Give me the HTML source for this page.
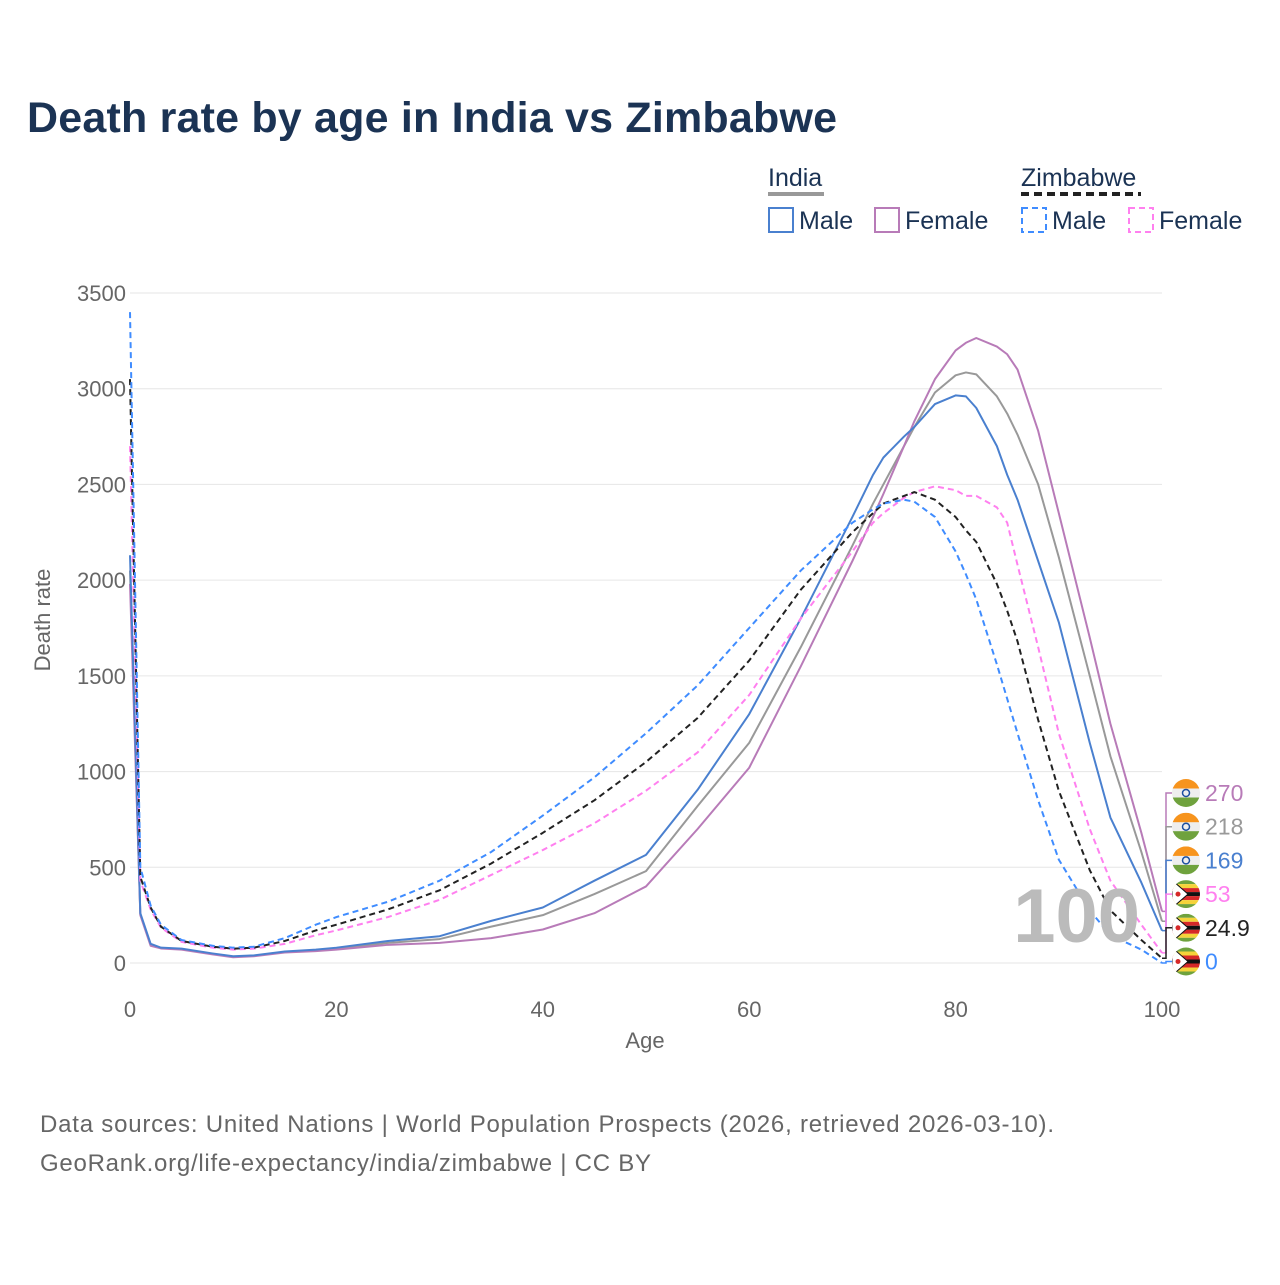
<!DOCTYPE html>
<html><head><meta charset="utf-8"><style>
body{margin:0;background:#fff;font-family:"Liberation Sans",sans-serif}
svg text{font-family:"Liberation Sans",sans-serif}
</style></head><body>
<svg id="c" width="1280" height="1280" xmlns="http://www.w3.org/2000/svg">
<defs id="defs"></defs>
<text x="27" y="132" font-size="43" font-weight="bold" fill="#1b3354" textLength="810">Death rate by age in India vs Zimbabwe</text>
<g font-size="25" fill="#1b3354">
<text x="768" y="186">India</text>
<line x1="768" y1="194" x2="824" y2="194" stroke="#999" stroke-width="4"/>
<text x="1021" y="186">Zimbabwe</text>
<line x1="1021" y1="194" x2="1141" y2="194" stroke="#222" stroke-width="4" stroke-dasharray="8,5"/>
<g><rect x="769" y="208" width="24" height="24" fill="none" stroke="#4a80cf" stroke-width="2"/><text x="799" y="229">Male</text></g>
<g><rect x="875" y="208" width="24" height="24" fill="none" stroke="#b87bb8" stroke-width="2"/><text x="905" y="229">Female</text></g>
<g><rect x="1022" y="208" width="24" height="24" fill="none" stroke="#3f8cff" stroke-width="2" stroke-dasharray="6,4"/><text x="1052" y="229">Male</text></g>
<g><rect x="1129" y="208" width="24" height="24" fill="none" stroke="#ff80ef" stroke-width="2" stroke-dasharray="6,4"/><text x="1159" y="229">Female</text></g>
</g>
<g id="grid"></g>
<g id="series"></g>
<text x="1140" y="942" font-size="76" font-weight="bold" fill="#bbb" text-anchor="end">100</text>
<g id="ends"></g>
<text x="645" y="1048" font-size="22" fill="#666" text-anchor="middle">Age</text>
<text transform="translate(50,620) rotate(-90)" font-size="22" fill="#666" text-anchor="middle">Death rate</text>
<text x="40" y="1132" font-size="24" fill="#666" textLength="1014">Data sources: United Nations | World Population Prospects (2026, retrieved 2026-03-10).</text>
<text x="40" y="1171" font-size="24" fill="#666" textLength="611">GeoRank.org/life-expectancy/india/zimbabwe | CC BY</text>
</svg>
<script>
const ages=[0,1,2,3,5,8,10,12,15,18,20,25,30,35,40,45,50,55,60,65,70,72,73,75,76,78,80,81,82,84,85,86,88,90,93,95,98,100];
const indiaMale=[2130,260,100,80,75,50,35,40,60,70,80,115,140,220,290,430,565,905,1300,1800,2330,2550,2640,2750,2800,2920,2965,2960,2900,2700,2550,2420,2100,1780,1150,760,420,169];
const indiaTotal=[2050,255,95,78,72,48,33,38,58,66,75,105,125,190,250,360,480,820,1150,1650,2180,2400,2500,2700,2800,2980,3070,3085,3075,2960,2870,2760,2500,2120,1500,1080,580,218];
const indiaFemale=[1980,250,90,76,70,45,30,35,55,62,70,95,105,130,175,260,400,700,1020,1550,2100,2330,2450,2700,2830,3050,3200,3240,3265,3220,3180,3100,2780,2350,1700,1250,680,270];
const zimMale=[3400,500,300,200,120,90,80,85,130,200,240,320,430,580,770,970,1200,1450,1750,2050,2300,2370,2400,2420,2410,2330,2150,2030,1900,1560,1380,1200,850,540,275,145,70,0];
const zimTotal=[3050,450,290,190,115,85,75,80,115,170,200,280,380,520,680,850,1050,1280,1580,1950,2250,2350,2400,2440,2460,2420,2330,2260,2200,1980,1840,1680,1270,900,485,275,120,25];
const zimFemale=[2700,430,280,185,110,80,70,75,100,145,170,240,330,460,590,730,900,1100,1400,1800,2150,2300,2350,2430,2460,2490,2470,2440,2440,2380,2300,2080,1650,1200,700,430,200,53];
const yTicks=[0,500,1000,1500,2000,2500,3000,3500];
const xTicks=[0,20,40,60,80,100];
const endLabels=["270","218","169","53","24.9","0"];
const NS="http://www.w3.org/2000/svg";
const X=a=>130+a*10.32, Y=v=>963-v*670/3500;
function el(t,a,p){const e=document.createElementNS(NS,t);for(const k in a)e.setAttribute(k,a[k]);p.appendChild(e);return e;}
const g=document.getElementById('grid');
yTicks.forEach(v=>{
 const l=el('line',{x1:130,x2:1162,y1:Y(v),y2:Y(v),stroke:'#e6e6e6','stroke-width':1},g);
 
 
 const t=el('text',{x:126,y:Y(v)+8,'font-size':22,fill:'#666','text-anchor':'end'},g);t.textContent=v;
 
 
});
xTicks.forEach(v=>{
 const t=el('text',{x:X(v),y:1017,'font-size':22,fill:'#666','text-anchor':'middle'},g);t.textContent=v;
 
 
});
const S=document.getElementById('series');
const sdefs=[[indiaTotal,'#999',null,'india-total-line'],[indiaFemale,'#b87bb8',null,'india-female-line'],[indiaMale,'#4a80cf',null,'india-male-line'],[zimFemale,'#ff80ef','6,4','zimbabwe-female-line'],[zimTotal,'#222','6,4','zimbabwe-total-line'],[zimMale,'#3f8cff','6,4','zimbabwe-male-line']];
sdefs.forEach(([d,c,da,n])=>{
 const p=el('polyline',{points:ages.map((a,i)=>X(a)+','+Y(d[i])).join(' '),fill:'none',stroke:c,'stroke-width':2,'stroke-linejoin':'round'},S);
 if(da)p.setAttribute('stroke-dasharray',da);
 
 
});
const E=document.getElementById('ends');
const D=document.getElementById('defs');
const cols=['#b87bb8','#999','#4a80cf','#ff80ef','#222','#3f8cff'];
const ends=[indiaFemale,indiaTotal,indiaMale,zimFemale,zimTotal,zimMale];
endLabels.forEach((lab,i)=>{
 const ly=793+i*33.7, vy=Y(ends[i][ends[i].length-1]);
 el('polyline',{points:`1162,${vy} 1166,${vy} 1166,${ly} 1172,${ly}`,fill:'none',stroke:cols[i],'stroke-width':1.5},E);
 const cx=1186;
 const cp=el('clipPath',{id:'fc'+i},D);
 el('circle',{cx,cy:ly,r:14},cp);
 const fg=el('g',{'clip-path':`url(#fc${i})`},E);
 
 
 if(i<3){
  el('rect',{x:cx-14,y:ly-14,width:28,height:28,fill:'#eee'},fg);
  el('rect',{x:cx-14,y:ly-14,width:28,height:9.5,fill:'#f7941d'},fg);
  el('rect',{x:cx-14,y:ly+4.5,width:28,height:9.5,fill:'#6fa23d'},fg);
  el('circle',{cx,cy:ly,r:3.5,fill:'none',stroke:'#1b4fa0','stroke-width':1.5},fg);
 }else{
  const st=[['#6fa23d',4],['#f5d33a',4],['#d62828',4],['#111',4],['#d62828',4],['#f5d33a',4],['#6fa23d',4]];
  let yy=ly-14;
  st.forEach(([c,h])=>{el('rect',{x:cx-14,y:yy,width:28,height:h,fill:c},fg);yy+=h;});
  el('path',{d:`M${cx-14},${ly-14} L${cx+2},${ly} L${cx-14},${ly+14}Z`,fill:'#fff',stroke:'#111','stroke-width':1},fg);
  el('circle',{cx:cx-8,cy:ly,r:2.5,fill:'#d62828'},fg);
 }
 const t=el('text',{x:1205,y:ly+8,'font-size':23,fill:cols[i]},E);t.textContent=lab;
 
 
});
</script>
</body></html>
